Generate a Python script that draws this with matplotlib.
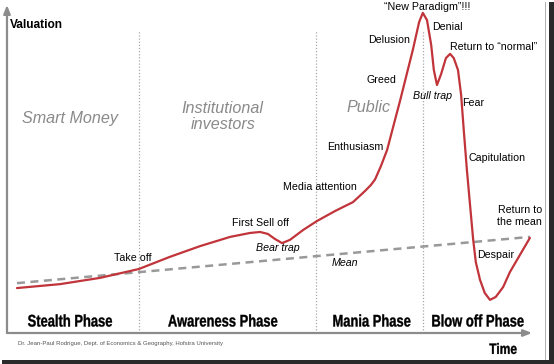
import matplotlib
matplotlib.use("Agg")
import matplotlib.pyplot as plt
from matplotlib.font_manager import FontProperties
from matplotlib.patches import Rectangle, PathPatch
from matplotlib.textpath import TextPath
from matplotlib.transforms import Affine2D

# ---------------- data ----------------
# time (0-100) and valuation (0-100) of the bubble curve
curve_time = [1.9, 10.1, 17.7, 25.1, 31.0, 36.8, 42.5, 46.3, 48.2, 49.7, 51.0, 52.4,
              53.9, 56.4, 59.0, 62.5, 65.9, 68.2, 69.3, 70.1, 71.2, 72.4, 73.5, 74.9,
              77.3, 78.5, 79.2,
              80.0, 80.8, 81.3, 81.9, 82.7, 83.6, 84.4, 85.1, 85.9, 86.5, 87.0, 87.6,
              88.2, 88.8, 89.3, 90.1, 91.0, 92.0, 93.1, 94.5, 95.8, 97.7, 99.6]
curve_value = [13.7, 14.9, 16.8, 19.5, 23.2, 26.5, 29.3, 30.5, 30.8, 30.2, 28.7, 27.4,
               28.4, 31.4, 34.1, 37.2, 39.9, 43.3, 45.1, 46.8, 50.8, 55.8, 62.5, 71.0,
               86.3, 94.8, 97.6,
               95.4, 87.8, 80.2, 75.6, 79.0, 83.8, 85.1, 83.8, 80.2, 72.6, 61.9, 49.7,
               39.0, 28.4, 21.6, 16.2, 12.2, 10.1, 11.0, 14.0, 18.6, 23.8, 29.0]
mean_time = [1.9, 99.6]
mean_value = [15.2, 29.3]

phase_bounds = [25.1, 58.9, 79.2]
phase_names = ["Stealth Phase", "Awareness Phase", "Mania Phase", "Blow off Phase"]
phase_centers = [12.0, 41.1, 69.5, 89.7]
actor_names = ["Smart Money", "Institutional\ninvestors", "Public"]
actor_pos = [(12.0, 65.5), (41.1, 66.0), (68.8, 68.6)]

labels = ["Take off", "First Sell off", "Media attention", "Enthusiasm", "Greed",
          "Delusion", "\u201cNew Paradigm\u201d!!!", "Denial", "Return to \u201cnormal\u201d",
          "Fear", "Capitulation", "Despair", "Return to\nthe mean"]
label_pos = [(24.0, 22.9), (48.2, 33.5), (59.6, 44.5), (66.3, 56.7), (71.4, 77.1),
             (72.8, 89.3), (80.0, 99.4), (83.8, 93.3), (92.6, 87.2),
             (88.8, 70.1), (93.3, 53.4), (93.1, 23.8), (97.7, 35.7)]
italic_labels = ["Bear trap", "Bull trap", "Mean"]
italic_pos = [(51.6, 25.9), (81.1, 72.3), (64.4, 21.3)]

BASE = "Liberation Sans"
plt.rcParams["font.family"] = [BASE, "DejaVu Sans"]

W, H = 554, 364
DPI = 100
fig = plt.figure(figsize=(W / DPI, H / DPI), dpi=DPI)
fig.patch.set_facecolor("white")

ax = fig.add_axes([7 / W, (H - 333) / H, 525 / W, 328 / H])
ax.set_xlim(0, 100)
ax.set_ylim(0, 100)
ax.axis("off")

# axes arrows
arrow_kw = dict(arrowstyle="-|>,head_length=0.5,head_width=0.2", color="#8c8c8c", lw=1.6,
                shrinkA=0, shrinkB=0)
ax.annotate("", xy=(0, 1), xytext=(0, 0), xycoords="axes fraction", arrowprops=arrow_kw)
ax.annotate("", xy=(1, 0), xytext=(0, 0), xycoords="axes fraction", arrowprops=arrow_kw)

# phase dividers
for b in phase_bounds:
    ax.plot([b, b], [0, 92.4], color="#a8a8a8", lw=0.9, ls=(0, (1, 1.5)))

# mean line
ax.plot(mean_time, mean_value, color="#999999", lw=1.8, ls=(0, (3.2, 2.2)))

# curve
ax.plot(curve_time, curve_value, color="#c0343a", lw=1.6, solid_joinstyle="round",
        solid_capstyle="round")

# condensed bold text drawn as a horizontally squeezed text path
bold_prop = FontProperties(family=BASE, weight="bold")


def condensed_text(s, cx_px, cy_top_px, em_px, squeeze):
    tp = TextPath((0, 0), s, size=em_px, prop=bold_prop)
    ext = tp.get_extents()
    cap = 0.716 * em_px
    width = ext.width * squeeze
    x0 = cx_px - width / 2 - ext.x0 * squeeze
    y0 = (H - cy_top_px) - cap / 2
    tr = Affine2D().scale(squeeze, 1).translate(x0, y0).scale(1 / DPI) + fig.dpi_scale_trans
    patch = PathPatch(tp, transform=tr, facecolor="black", edgecolor="black", lw=0.25)
    fig.add_artist(patch)


phase_center_px = [7 + c / 100 * 525 for c in phase_centers]
for name, cx in zip(phase_names, phase_center_px):
    condensed_text(name, cx, 320.5, 16.8, 0.77)
condensed_text("Time", 503, 348.5, 15.0, 0.8)

# texts
ax.text(0.6, 94.0, "Valuation", fontsize=8.6, fontweight="bold", ha="left", va="center",
        color="black")
for name, (x, y) in zip(actor_names, actor_pos):
    ax.text(x, y, name, fontsize=11.6, style="italic", color="#8a8a8a", ha="center",
            va="center", linespacing=1.05)
for name, (x, y) in zip(labels, label_pos):
    ax.text(x, y, name, fontsize=7.7, ha="center", va="center", color="black",
            linespacing=1.25)
for name, (x, y) in zip(italic_labels, italic_pos):
    ax.text(x, y, name, fontsize=7.7, style="italic", ha="center", va="center", color="black")

fig.text(18 / W, 1 - 343 / H,
         "Dr. Jean-Paul Rodrigue, Dept. of Economics & Geography, Hofstra University",
         fontsize=4.3, color="#555555", ha="left", va="center")

# picture frame / shadow
fig.add_artist(Rectangle((545 / W, 2 / H), 1.2 / W, 360 / H, transform=fig.transFigure,
                         color="#b0b0b0", lw=0))
fig.add_artist(Rectangle((548.5 / W, 0), 5.5 / W, 362 / H, transform=fig.transFigure,
                         color="#2a2a2a", lw=0))
fig.add_artist(Rectangle((2 / W, 0), 552 / W, 4 / H, transform=fig.transFigure,
                         color="#2a2a2a", lw=0))

fig.savefig("out.png", dpi=DPI, facecolor="white")
